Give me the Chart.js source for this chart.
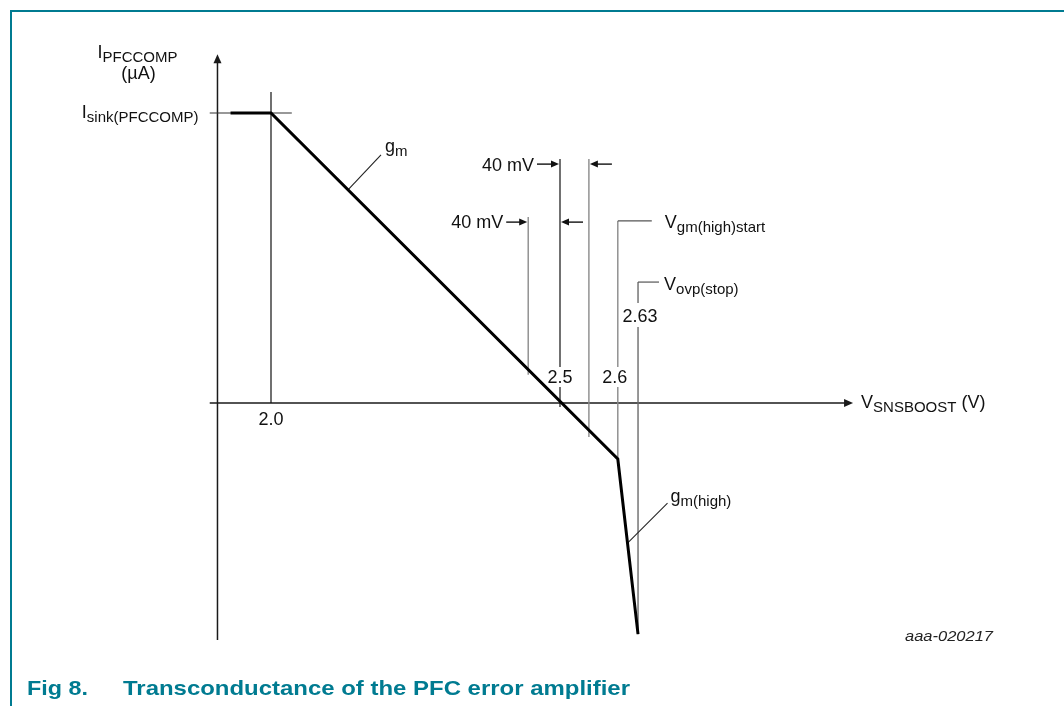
<!DOCTYPE html>
<html lang="en">
<head>
<meta charset="UTF-8">
<title>Transconductance of the PFC error amplifier</title>
<script src="https://cdn.jsdelivr.net/npm/chart.js"></script>
<style>
  html, body { margin: 0; padding: 0; background: #fff; }
  #wrap { position: relative; width: 1064px; height: 706px; overflow: hidden; }
  #frame { position: absolute; left: 10px; top: 10px; width: 1100px; height: 800px;
           border-top: 2px solid #007b91; border-left: 2px solid #007b91; }
  #chart { position: absolute; left: 0; top: 0; }
  .cap { position: absolute; top: 677px; font-family: "Liberation Sans Narrow", "Arial Narrow", "Liberation Sans", Arial, sans-serif;
         font-weight: bold; font-size: 21px; line-height: 1; color: #007b91; white-space: nowrap; transform-origin: 0 0; }
  #figid { position: absolute; top: 628px; font-family: "Liberation Sans Narrow", "Arial Narrow", "Liberation Sans", Arial, sans-serif;
           font-style: italic; font-size: 15px; line-height: 1; color: #222; white-space: nowrap; transform-origin: 0 0; }
</style>
</head>
<body>
<div id="wrap">
  <div id="frame"></div>
  <canvas id="chart" width="1064" height="706"></canvas>
  <div class="cap" id="capNum" data-left="27" data-width="61">Fig 8.</div>
  <div class="cap" id="capText" data-left="123" data-width="507">Transconductance of the PFC error amplifier</div>
  <div id="figid" data-right="993" data-width="88">aaa-020217</div>
</div>

<script>
// transfer curve: V_SNSBOOST (V) against I_PFCCOMP (normalised, 1 = Isink(PFCCOMP))
const vSense = [1.93, 2.0, 2.6, 2.635];
const iComp = [1, 1, -0.193, -0.797];

// x tick marks written on the drawing
const tickValues = [2.0, 2.5, 2.6, 2.635];
const tickLabels = ['2.0', '2.5', '2.6', '2.63'];

// vertical guide lines (as drawn, not to scale)
const guideX = [2.0, 2.445, 2.5, 2.55, 2.6, 2.635];
const guideTop = [1.072, 0.641, 0.841, 0.841, 0.628, 0.417];
const guideBottom = [0, 0.097, -0.014, -0.117, -0.193, -0.797];
const guideColor = ['#111', '#8a8a8a', '#111', '#8a8a8a', '#8a8a8a', '#6a6a6a'];

// axis extents in data units
const xAxisRange = [1.894, 3.007];
const yAxisRange = [-0.817, 1.203];
const yAxisAt = 1.9074;

const FONT = '"Liberation Sans", Arial, sans-serif';

function seg(ctx, x1, y1, x2, y2) {
  ctx.beginPath(); ctx.moveTo(x1, y1); ctx.lineTo(x2, y2); ctx.stroke();
}

function head(ctx, x, y, dir, len, half) {
  ctx.beginPath();
  if (dir === 'right') { ctx.moveTo(x, y); ctx.lineTo(x - len, y - half); ctx.lineTo(x - len, y + half); }
  if (dir === 'left') { ctx.moveTo(x, y); ctx.lineTo(x + len, y - half); ctx.lineTo(x + len, y + half); }
  if (dir === 'up') { ctx.moveTo(x, y); ctx.lineTo(x - half, y + len); ctx.lineTo(x + half, y + len); }
  ctx.closePath(); ctx.fill();
}

// text with subscripts: parts = [[text, isSub], ...]
function rich(ctx, parts, x, y, align) {
  const fonts = [ '18px ' + FONT, '15px ' + FONT ];
  let w = 0;
  parts.forEach(p => { ctx.font = fonts[p[1] ? 1 : 0]; w += ctx.measureText(p[0]).width; });
  let cx = align === 'center' ? x - w / 2 : align === 'right' ? x - w : x;
  ctx.textAlign = 'left'; ctx.textBaseline = 'alphabetic';
  parts.forEach(p => {
    ctx.font = fonts[p[1] ? 1 : 0];
    ctx.fillText(p[0], cx, y + (p[1] ? 4 : 0));
    cx += ctx.measureText(p[0]).width;
  });
}

const schematic = {
  id: 'schematic',
  beforeDatasetsDraw(chart) {
    const { ctx, scales: { x, y } } = chart;
    const px = v => x.getPixelForValue(v), py = v => y.getPixelForValue(v);
    ctx.save();
    ctx.strokeStyle = '#1a1a1a'; ctx.fillStyle = '#1a1a1a'; ctx.lineWidth = 1.5;

    // axes with arrows
    const ax = px(yAxisAt);
    seg(ctx, ax, py(yAxisRange[0]), ax, py(yAxisRange[1]) + 7);
    head(ctx, ax, py(yAxisRange[1]), 'up', 9, 4);
    seg(ctx, px(xAxisRange[0]), py(0), px(xAxisRange[1]) - 7, py(0));
    head(ctx, px(xAxisRange[1]), py(0), 'right', 9, 4);

    // Isink level tick
    ctx.lineWidth = 1.2; ctx.strokeStyle = '#333';
    seg(ctx, px(xAxisRange[0]), py(1), px(2.036), py(1));

    // guide lines, broken where a value is written over them
    const gaps = {};
    gaps[2.5] = [py(0) - 36, py(0) - 16];
    gaps[2.6] = [py(0) - 36, py(0) - 16];
    gaps[2.635] = [py(0) - 100, py(0) - 76];
    guideX.forEach((g, i) => {
      ctx.strokeStyle = guideColor[i];
      ctx.lineWidth = guideColor[i] === '#111' ? 1.2 : 1.4;
      const top = py(guideTop[i]), bot = py(guideBottom[i]);
      const gp = gaps[g];
      if (gp) { seg(ctx, px(g), top, px(g), gp[0]); seg(ctx, px(g), gp[1], px(g), bot); }
      else seg(ctx, px(g), top, px(g), bot);
    });

    // leaders to V labels
    ctx.strokeStyle = '#555'; ctx.lineWidth = 1.2;
    seg(ctx, px(2.6), py(guideTop[4]), px(2.6) + 34, py(guideTop[4]));
    seg(ctx, px(2.635), py(guideTop[5]), px(2.635) + 21, py(guideTop[5]));

    // 40 mV dimension arrows
    ctx.strokeStyle = '#111'; ctx.fillStyle = '#111'; ctx.lineWidth = 1.4;
    const r1 = py(guideTop[2]) + 5, r2 = py(guideTop[1]) + 5;
    seg(ctx, px(2.5) - 23, r1, px(2.5) - 6, r1); head(ctx, px(2.5) - 1, r1, 'right', 8, 3.5);
    seg(ctx, px(2.55) + 23, r1, px(2.55) + 6, r1); head(ctx, px(2.55) + 1, r1, 'left', 8, 3.5);
    seg(ctx, px(2.445) - 22, r2, px(2.445) - 6, r2); head(ctx, px(2.445) - 1, r2, 'right', 8, 3.5);
    seg(ctx, px(2.5) + 23, r2, px(2.5) + 6, r2); head(ctx, px(2.5) + 1, r2, 'left', 8, 3.5);

    // leaders to gm labels
    ctx.strokeStyle = '#222'; ctx.lineWidth = 1.1;
    const at = (a, b, t) => [px(vSense[a]) + (px(vSense[b]) - px(vSense[a])) * t,
                             py(iComp[a]) + (py(iComp[b]) - py(iComp[a])) * t];
    const g1 = at(1, 2, 0.222);
    seg(ctx, g1[0], g1[1], g1[0] + 33, g1[1] - 35);
    const g2 = at(2, 3, 0.48);
    seg(ctx, g2[0], g2[1], g2[0] + 40, g2[1] - 40);
    ctx.restore();
  },
  afterDatasetsDraw(chart) {
    const { ctx, scales: { x, y } } = chart;
    const px = v => x.getPixelForValue(v), py = v => y.getPixelForValue(v);
    ctx.save();
    ctx.fillStyle = '#111';
    const ax = px(yAxisAt), tipY = py(yAxisRange[1]);

    // axis titles
    rich(ctx, [['I', 0], ['PFCCOMP', 1]], ax - 120, tipY + 4, 'left');
    rich(ctx, [['(µA)', 0]], ax - 79, tipY + 25, 'center');
    rich(ctx, [['I', 0], ['sink(PFCCOMP)', 1]], ax - 19, py(1) + 5, 'right');
    rich(ctx, [['V', 0], ['SNSBOOST', 1], [' (V)', 0]], px(xAxisRange[1]) + 8, py(0) + 5, 'left');

    // value labels
    rich(ctx, [[tickLabels[0], 0]], px(tickValues[0]), py(0) + 22, 'center');
    rich(ctx, [[tickLabels[1], 0]], px(tickValues[1]), py(0) - 20, 'center');
    rich(ctx, [[tickLabels[2], 0]], px(tickValues[2]) - 3, py(0) - 20, 'center');
    rich(ctx, [[tickLabels[3], 0]], px(tickValues[3]) + 2, py(0) - 81, 'center');

    // 40 mV
    rich(ctx, [['40 mV', 0]], px(2.5) - 26, py(guideTop[2]) + 12, 'right');
    rich(ctx, [['40 mV', 0]], px(2.445) - 25, py(guideTop[1]) + 11, 'right');

    // threshold names
    rich(ctx, [['V', 0], ['gm(high)start', 1]], px(2.6) + 47, py(guideTop[4]) + 7, 'left');
    rich(ctx, [['V', 0], ['ovp(stop)', 1]], px(2.635) + 26, py(guideTop[5]) + 8, 'left');

    // slopes
    const at = (a, b, t) => [px(vSense[a]) + (px(vSense[b]) - px(vSense[a])) * t,
                             py(iComp[a]) + (py(iComp[b]) - py(iComp[a])) * t];
    const g1 = at(1, 2, 0.222);
    rich(ctx, [['g', 0], ['m', 1]], g1[0] + 37, g1[1] - 38, 'left');
    const g2 = at(2, 3, 0.48);
    rich(ctx, [['g', 0], ['m(high)', 1]], g2[0] + 43, g2[1] - 41, 'left');
    ctx.restore();
  }
};

new Chart(document.getElementById('chart'), {
  type: 'scatter',
  data: {
    datasets: [{
      data: vSense.map((v, i) => ({ x: v, y: iComp[i] })),
      showLine: true,
      borderColor: '#000',
      borderWidth: 3,
      pointRadius: 0,
      tension: 0
    }]
  },
  options: {
    responsive: false,
    animation: false,
    devicePixelRatio: 1,
    events: [],
    layout: { padding: { left: 39.8, right: 157.2, top: 26, bottom: 42 } },
    plugins: { legend: { display: false }, tooltip: { enabled: false } },
    scales: {
      x: { type: 'linear', min: 1.6, max: 3.1, display: false },
      y: { type: 'linear', min: -0.9, max: 1.3, display: false }
    }
  },
  plugins: [schematic]
});

// squeeze caption texts to the widths in the figure
document.querySelectorAll('.cap, #figid').forEach(el => {
  const w = el.getBoundingClientRect().width;
  const s = parseFloat(el.dataset.width) / w;
  if (el.dataset.left) el.style.left = el.dataset.left + 'px';
  else el.style.left = (parseFloat(el.dataset.right) - parseFloat(el.dataset.width)) + 'px';
  el.style.transform = 'scaleX(' + s + ')';
});
</script>
</body>
</html>
